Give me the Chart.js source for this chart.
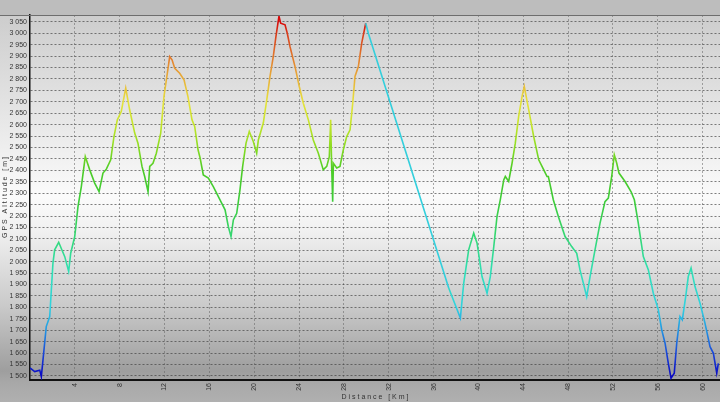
<!DOCTYPE html>
<html>
<head>
<meta charset="utf-8">
<script src="https://cdn.jsdelivr.net/npm/chart.js@4/dist/chart.umd.min.js"></script>
<style>
  html, body { margin: 0; padding: 0; background: #bdbdbd; }
  #c { display: block; }
</style>
</head>
<body>
<canvas id="c" width="720" height="402"></canvas>
<script>
// ---- data ----
const distanceKm = [0, 0.42, 0.87, 1.01, 1.16, 1.45, 1.76, 2.05, 2.20, 2.56, 3.10, 3.45, 3.63, 3.99, 4.28, 4.58, 4.93, 5.33, 5.77, 6.16, 6.51, 6.81, 7.20, 7.49, 7.79, 8.14, 8.54, 8.89, 9.34, 9.63, 9.99, 10.23, 10.53, 10.68, 10.97, 11.27, 11.66, 11.95, 12.25, 12.46, 12.67, 12.91, 13.35, 13.74, 14.09, 14.45, 14.69, 14.99, 15.17, 15.46, 15.91, 16.35, 16.95, 17.40, 17.69, 17.93, 18.14, 18.44, 18.73, 18.97, 19.27, 19.56, 19.92, 20.22, 20.37, 20.81, 21.12, 21.41, 21.70, 21.94, 22.21, 22.36, 22.75, 22.95, 23.19, 23.64, 24.02, 24.38, 24.83, 25.27, 25.72, 26.16, 26.47, 26.70, 26.82, 26.91, 27.00, 27.06, 27.36, 27.65, 27.95, 28.25, 28.55, 28.79, 28.99, 29.29, 29.59, 29.95, 30.18, 37.35, 38.39,
  38.69, 39.13, 39.58, 39.88, 40.32, 40.77, 41.06, 41.37, 41.66, 41.95, 42.26, 42.40, 42.70, 43.00, 43.29, 43.59, 43.89, 44.09, 44.49, 44.93, 45.38, 45.83, 46.12, 46.24, 46.68, 47.13, 47.73, 48.32, 48.77, 49.06, 49.36, 49.66, 49.96, 50.40, 50.85, 51.29, 51.59, 51.89, 52.12, 52.34, 52.54, 53.08, 53.61, 53.91, 54.26, 54.71, 55.16, 55.60, 56.05, 56.35, 56.65, 56.94, 57.18, 57.47, 57.69, 57.98, 58.19, 58.49, 58.72, 58.97, 59.32, 59.77, 60.21, 60.66, 60.96, 61.26, 61.40];
const altitudeM = [1535, 1519, 1525, 1497, 1570, 1716, 1760, 1995, 2052, 2085, 2022, 1957, 2037, 2110, 2241, 2329, 2460, 2402, 2344, 2307, 2388, 2405, 2446, 2548, 2621, 2657, 2760, 2665, 2563, 2519, 2417, 2373, 2307, 2417, 2431, 2475, 2563, 2723, 2825, 2898, 2884, 2847, 2825, 2796, 2723, 2621, 2592, 2490, 2455, 2380, 2366, 2329, 2271, 2227, 2154, 2110, 2183, 2212, 2314, 2417, 2519, 2570, 2526, 2475, 2533, 2607, 2708, 2811, 2898, 2986, 3075, 3044, 3037, 3000, 2942, 2854, 2767, 2694, 2621, 2533, 2475, 2402, 2417, 2460, 2621, 2417, 2263, 2431, 2410, 2417, 2490, 2548, 2577, 2694, 2811, 2854, 2957, 3044, 3000, 1885, 1753,
  1906, 2052, 2125, 2081, 1935, 1862, 1935, 2066, 2198, 2271, 2358, 2373, 2351, 2431, 2519, 2636, 2723, 2767, 2665, 2548, 2446, 2402, 2373, 2373, 2271, 2198, 2110, 2066, 2037, 1964, 1906, 1847, 1935, 2052, 2169, 2263, 2278, 2373, 2468, 2431, 2388, 2351, 2307, 2271, 2169, 2022, 1964, 1862, 1789, 1702, 1643, 1555, 1490, 1512, 1643, 1760, 1745, 1847, 1935, 1972, 1891, 1818, 1731, 1628, 1599, 1512, 1555];
// stretch without GPS fix (drawn straight, in cyan)
const gapStartKm = 29.95;
const gapEndKm = 37.35;
// tick values
const xTickValues = [4, 8, 12, 16, 20, 24, 28, 32, 36, 40, 44, 48, 52, 56, 60];
const yTickValues = [1500, 1550, 1600, 1650, 1700, 1750, 1800, 1850, 1900, 1950, 2000, 2050, 2100, 2150, 2200, 2250, 2300, 2350, 2400, 2450, 2500, 2550, 2600, 2650, 2700, 2750, 2800, 2850, 2900, 2950, 3000, 3050];
const xTitle = 'D i s t a n c e   [ K m ]';
const yTitle = 'G P S   A l t i t u d e   [ m ]';

// ---- styling ----
const altitudeColorStops = [
  [1500, '#0a0ac4'], [1600, '#1846d8'], [1700, '#2296e2'], [1800, '#30d2e0'],
  [1950, '#30e0b8'], [2100, '#34d878'], [2250, '#3ccc3c'], [2400, '#4ccc26'],
  [2500, '#8adc22'], [2600, '#c4e42a'], [2700, '#e6e23c'], [2800, '#e8b03a'],
  [2900, '#e2782c'], [3000, '#d83a1a'], [3050, '#d80808']
];
const gapColor = '#33cfdc';

function altitudeGradient(context) {
  const chart = context.chart;
  const area = chart.chartArea;
  if (!area) return '#3ccc3c';
  const ys = chart.scales.y;
  const lo = altitudeColorStops[0][0], hi = altitudeColorStops[altitudeColorStops.length - 1][0];
  const g = chart.ctx.createLinearGradient(0, ys.getPixelForValue(lo), 0, ys.getPixelForValue(hi));
  altitudeColorStops.forEach(([v, c]) => g.addColorStop((v - lo) / (hi - lo), c));
  return g;
}

const backgroundPlugin = {
  id: 'bg',
  beforeDraw(chart) {
    const { ctx, width, height, chartArea } = chart;
    ctx.save();
    ctx.fillStyle = '#bdbdbd';
    ctx.fillRect(0, 0, width, height);
    const g = ctx.createLinearGradient(0, chartArea.top, 0, height);
    g.addColorStop(0, '#cdcdcd');
    g.addColorStop(0.22, '#e2e2e2');
    g.addColorStop(0.47, '#fbfbfb');
    g.addColorStop(0.56, '#f0f0f0');
    g.addColorStop(0.75, '#cacaca');
    g.addColorStop(0.92, '#9e9e9e');
    g.addColorStop(0.95, '#a8a8a8');
    g.addColorStop(1, '#b0b0b0');
    ctx.fillStyle = g;
    ctx.fillRect(0, chartArea.top, width, height - chartArea.top);
    ctx.restore();
  },
  afterDraw(chart) {
    const { ctx, chartArea } = chart;
    ctx.save();
    ctx.strokeStyle = '#6e6e6e';
    ctx.lineWidth = 1;
    ctx.beginPath();
    ctx.moveTo(0, chartArea.top + 0.5);
    ctx.lineTo(chart.width, chartArea.top + 0.5);
    ctx.stroke();
    ctx.restore();
  }
};

const points = distanceKm.map((d, i) => ({ x: d, y: altitudeM[i] }));
const tickFont = { family: 'Liberation Sans, Arial, sans-serif', size: 7 };

new Chart(document.getElementById('c'), {
  type: 'line',
  data: {
    datasets: [{
      data: points,
      borderColor: altitudeGradient,
      borderWidth: 1.6,
      pointRadius: 0,
      tension: 0,
      fill: false,
      segment: {
        borderColor: (ctx) => (ctx.p0.parsed.x >= gapStartKm && ctx.p1.parsed.x <= gapEndKm) ? gapColor : undefined
      }
    }]
  },
  options: {
    responsive: false,
    animation: false,
    devicePixelRatio: 1,
    layout: { padding: { top: 15, left: 0, right: 0, bottom: 0 } },
    plugins: { legend: { display: false }, tooltip: { enabled: false } },
    scales: {
      x: {
        type: 'linear',
        min: 0,
        max: 61.55,
        afterBuildTicks: (scale) => { scale.ticks = xTickValues.map(v => ({ value: v })); },
        afterFit: (scale) => { scale.height = 22; },
        grid: { color: 'rgba(100,100,100,0.55)', lineWidth: 1, drawTicks: false },
        border: { display: true, color: '#111', width: 2, dash: [2, 2] },
        ticks: { minRotation: 90, maxRotation: 90, padding: 3, color: '#333', font: tickFont, autoSkip: false },
        title: { display: true, text: xTitle, color: '#333', font: { family: 'Liberation Sans, Arial, sans-serif', size: 7 }, padding: { top: 0, bottom: 1 } }
      },
      y: {
        type: 'linear',
        min: 1482,
        max: 3080,
        afterBuildTicks: (scale) => { scale.ticks = yTickValues.map(v => ({ value: v })); },
        afterFit: (scale) => { scale.width = 30; },
        grid: { color: 'rgba(60,60,60,0.65)', lineWidth: 1, drawTicks: false },
        border: { display: true, color: '#111', width: 1.5, dash: [2, 2] },
        ticks: {
          padding: 3, color: '#333', font: tickFont, autoSkip: false,
          callback: (v) => {
            const s = String(v);
            return s.length > 3 ? s.slice(0, s.length - 3) + ' ' + s.slice(-3) : s;
          }
        },
        title: { display: true, text: yTitle, color: '#333', font: { family: 'Liberation Sans, Arial, sans-serif', size: 7 }, padding: { top: 1, bottom: 0 } }
      }
    }
  },
  plugins: [backgroundPlugin]
});
</script>
</body>
</html>
